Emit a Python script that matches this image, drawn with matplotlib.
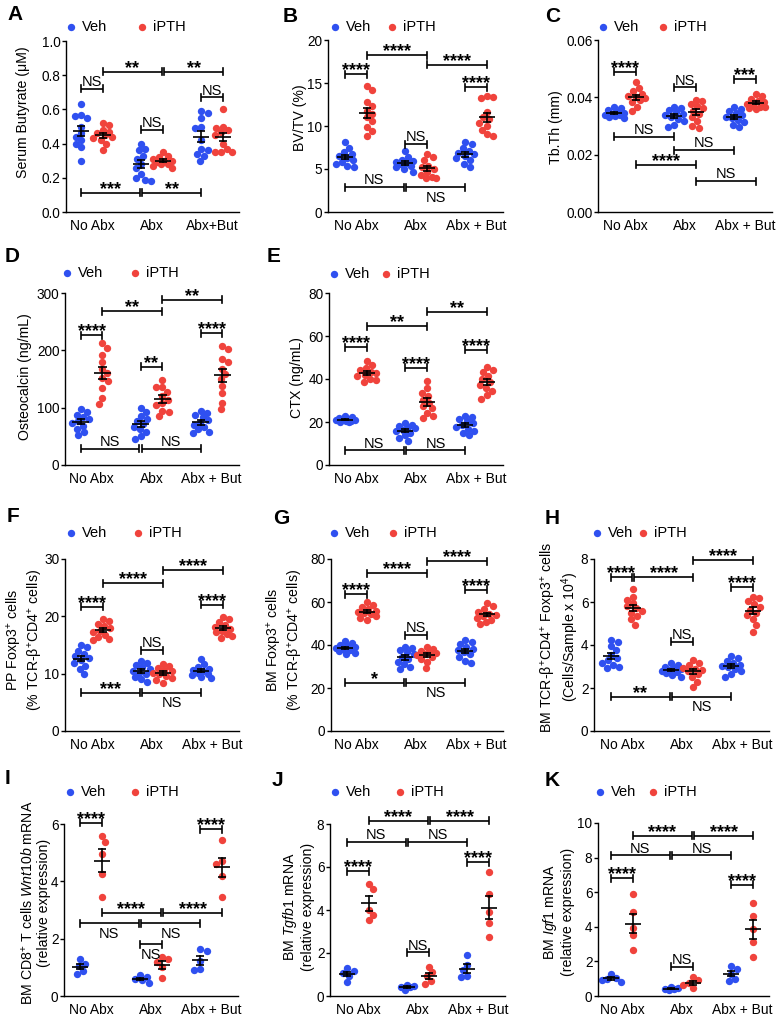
import numpy as np
import matplotlib
matplotlib.use("Agg")
import matplotlib.pyplot as plt
from matplotlib.lines import Line2D

plt.rcParams['font.family'] = ['Liberation Sans', 'DejaVu Sans']
plt.rcParams['mathtext.fontset'] = 'custom'
plt.rcParams['mathtext.rm'] = 'Liberation Sans'
plt.rcParams['mathtext.it'] = 'Liberation Sans:italic'
plt.rcParams['mathtext.bf'] = 'Liberation Sans:bold'

W, H = 779, 1023
BLUE = '#2f50f0'
RED = '#f0433c'

groups = ['No Abx', 'Abx', 'Abx + But']
groups_a = ['No Abx', 'Abx', 'Abx+But']

# ---------------- data ----------------
a_veh = [[0.63, 0.57, 0.56, 0.55, 0.50, 0.46, 0.44, 0.42, 0.40, 0.38, 0.30],
         [0.40, 0.37, 0.36, 0.33, 0.31, 0.28, 0.26, 0.22, 0.20, 0.18, 0.19],
         [0.59, 0.58, 0.55, 0.50, 0.49, 0.42, 0.36, 0.37, 0.34, 0.33, 0.30]]
a_ipth = [[0.52, 0.51, 0.48, 0.46, 0.47, 0.45, 0.44, 0.43, 0.42, 0.40, 0.36],
          [0.35, 0.33, 0.32, 0.31, 0.30, 0.30, 0.29, 0.28, 0.28, 0.27, 0.26],
          [0.60, 0.50, 0.49, 0.48, 0.47, 0.45, 0.40, 0.37, 0.35, 0.35, 0.35]]
b_veh = [[8.1, 7.5, 7.0, 6.8, 6.5, 6.3, 6.0, 5.8, 5.6, 5.4, 5.2],
         [7.1, 6.4, 6.1, 5.9, 5.8, 5.7, 5.6, 5.4, 5.2, 5.0, 4.7],
         [8.1, 7.9, 7.4, 7.1, 6.9, 6.7, 6.5, 6.3, 6.0, 5.6, 5.2]]
b_ipth = [[14.6, 14.2, 12.8, 12.3, 11.8, 11.4, 11.0, 10.6, 9.9, 9.4, 8.8],
          [6.7, 6.4, 6.0, 5.4, 5.2, 5.0, 4.6, 4.3, 4.1, 4.0, 4.0],
          [13.5, 13.4, 13.2, 11.6, 11.0, 10.8, 10.4, 10.0, 9.5, 9.1, 8.8]]
c_veh = [[0.0366, 0.0362, 0.0356, 0.0350, 0.0346, 0.0343, 0.0340, 0.0337, 0.0334, 0.0330, 0.0327],
         [0.0368, 0.0363, 0.0356, 0.0348, 0.0342, 0.0338, 0.0333, 0.0326, 0.0318, 0.0305, 0.0295],
         [0.0367, 0.0360, 0.0352, 0.0345, 0.0338, 0.0333, 0.0328, 0.0322, 0.0315, 0.0305, 0.0295]]
c_ipth = [[0.0452, 0.0432, 0.0421, 0.0412, 0.0405, 0.0400, 0.0396, 0.0390, 0.0382, 0.0367, 0.0353],
          [0.0392, 0.0386, 0.0378, 0.0370, 0.0362, 0.0352, 0.0342, 0.0330, 0.0316, 0.0300, 0.0293],
          [0.0412, 0.0405, 0.0395, 0.0388, 0.0382, 0.0377, 0.0372, 0.0368, 0.0365, 0.0362, 0.0360]]
d_veh = [[97, 93, 88, 84, 80, 76, 73, 68, 63, 57, 52],
         [100, 93, 86, 81, 77, 72, 67, 62, 57, 50, 46],
         [94, 91, 88, 84, 78, 74, 70, 66, 62, 58, 56]]
d_ipth = [[212, 204, 192, 180, 168, 160, 152, 146, 134, 116, 106],
          [148, 136, 136, 128, 120, 114, 108, 104, 95, 92, 85],
          [207, 203, 185, 180, 168, 158, 150, 138, 125, 108, 97]]
e_veh = [[22.6, 22.2, 21.9, 21.6, 21.3, 21.0, 20.8, 20.6, 20.4, 20.2, 20.0],
         [19.4, 18.8, 18.3, 17.6, 17.0, 16.4, 15.6, 14.8, 13.9, 12.5, 11.2],
         [23.0, 22.4, 21.5, 20.5, 19.4, 18.6, 17.8, 16.8, 15.8, 14.8, 13.8]]
e_ipth = [[48.4, 46.5, 45.2, 44.0, 43.3, 42.7, 42.0, 41.2, 40.2, 39.5, 38.8],
          [39.3, 35.8, 33.5, 32.0, 30.4, 29.0, 27.3, 26.3, 24.2, 22.8, 21.8],
          [45.6, 44.3, 43.2, 41.5, 40.2, 38.6, 37.4, 36.0, 34.5, 32.6, 30.8]]
f_veh = [[15.0, 14.6, 14.0, 13.4, 13.0, 12.7, 12.3, 11.9, 11.4, 10.8, 9.9],
         [12.2, 11.8, 11.5, 11.1, 10.8, 10.5, 10.2, 9.9, 9.5, 9.1, 8.6],
         [12.6, 11.6, 11.2, 10.9, 10.6, 10.4, 10.2, 10.0, 9.8, 9.5, 9.2]]
f_ipth = [[19.5, 19.1, 18.7, 18.3, 17.9, 17.5, 17.2, 16.8, 16.4, 16.0, 15.8],
          [11.7, 11.3, 11.0, 10.7, 10.4, 10.2, 9.9, 9.6, 9.3, 8.9, 8.4],
          [19.9, 19.5, 19.0, 18.5, 18.1, 17.8, 17.5, 17.2, 16.9, 16.6, 16.3]]
g_veh = [[42.0, 41.0, 40.2, 39.6, 39.1, 38.7, 38.3, 37.8, 37.2, 36.4, 35.6],
         [39.2, 38.4, 37.5, 36.6, 35.6, 34.6, 33.4, 32.2, 31.0, 29.8, 28.7],
         [42.3, 41.3, 40.3, 39.2, 38.3, 37.5, 36.6, 35.6, 34.3, 32.6, 31.4]]
g_ipth = [[59.8, 58.6, 57.5, 56.6, 55.9, 55.3, 54.8, 54.2, 53.5, 52.6, 51.6],
          [38.9, 38.0, 37.4, 36.8, 36.2, 35.7, 35.2, 34.5, 33.6, 32.2, 29.3],
          [59.4, 58.0, 56.6, 55.3, 54.6, 54.0, 53.3, 52.6, 51.8, 50.8, 49.7]]
h_veh = [[4.25, 4.15, 3.95, 3.75, 3.55, 3.40, 3.28, 3.15, 3.05, 2.97, 2.92],
         [3.15, 3.08, 3.00, 2.95, 2.90, 2.85, 2.80, 2.75, 2.68, 2.60, 2.52],
         [3.48, 3.38, 3.25, 3.15, 3.08, 3.02, 2.97, 2.90, 2.80, 2.65, 2.52]]
h_ipth = [[6.60, 6.25, 6.10, 5.95, 5.80, 5.70, 5.60, 5.50, 5.35, 5.20, 4.95],
          [3.30, 3.15, 3.05, 2.95, 2.90, 2.85, 2.78, 2.65, 2.50, 2.30, 2.05],
          [6.25, 6.18, 6.05, 5.90, 5.78, 5.65, 5.50, 5.38, 5.22, 4.95, 4.62]]
i_veh = [[1.29, 1.12, 1.04, 0.88, 0.78], [0.72, 0.66, 0.60, 0.55, 0.45], [1.63, 1.56, 1.22, 0.93, 0.90]]
i_ipth = [[5.58, 5.38, 4.95, 4.25, 3.45], [1.35, 1.28, 1.18, 1.00, 0.62], [5.44, 4.72, 4.62, 4.20, 3.45]]
j_veh = [[1.28, 1.18, 1.06, 0.95, 0.66], [0.50, 0.46, 0.42, 0.40, 0.30], [1.92, 1.45, 1.22, 0.92, 0.88]]
j_ipth = [[5.22, 4.98, 4.00, 3.78, 3.55], [1.35, 1.10, 0.92, 0.70, 0.58], [5.75, 4.75, 3.90, 3.40, 2.75]]
k_veh = [[1.30, 1.06, 1.00, 0.90, 0.80], [0.50, 0.45, 0.42, 0.38, 0.33], [1.75, 1.55, 1.30, 1.00, 0.88]]
k_ipth = [[5.90, 4.88, 3.92, 3.53, 2.66], [1.10, 0.90, 0.78, 0.62, 0.45], [5.40, 4.65, 3.90, 3.10, 2.28]]

# significance brackets: (from, to, height, label, text side)
a_brk = [('V0', 'P0', 0.72, 'NS', 'a'), ('P0', 'P1', 0.82, '**', 'a'), ('P1', 'P2', 0.82, '**', 'a'),
         ('V1', 'P1', 0.48, 'NS', 'a'), ('V2', 'P2', 0.67, 'NS', 'a'),
         ('V0', 'V1', 0.113, '***', 'a'), ('V1', 'V2', 0.113, '**', 'a')]
b_brk = [('V0', 'P0', 16.0, '****', 'a'), ('P0', 'P1', 18.25, '****', 'a'), ('P1', 'P2', 17.1, '****', 'a'),
         ('V2', 'P2', 14.5, '****', 'a'), ('V1', 'P1', 7.9, 'NS', 'a'),
         ('V0', 'V1', 2.9, 'NS', 'a'), ('V1', 'V2', 2.9, 'NS', 'b')]
c_brk = [('V0', 'P0', 0.049, '****', 'a'), ('V1', 'P1', 0.0435, 'NS', 'a'), ('V2', 'P2', 0.0463, '***', 'a'),
         ('V0', 'V1', 0.0263, 'NS', 'a'), ('V1', 'V2', 0.0216, 'NS', 'a'),
         ('P0', 'P1', 0.0164, '****', 'a'), ('P1', 'P2', 0.0108, 'NS', 'a')]
d_brk = [('V0', 'P0', 226, '****', 'a'), ('P0', 'P1', 268, '**', 'a'), ('P1', 'P2', 288, '**', 'a'),
         ('V2', 'P2', 230, '****', 'a'), ('V1', 'P1', 171, '**', 'a'),
         ('V0', 'V1', 28, 'NS', 'a'), ('V1', 'V2', 28, 'NS', 'a')]
e_brk = [('V0', 'P0', 54.7, '****', 'a'), ('P0', 'P1', 64.6, '**', 'a'), ('P1', 'P2', 71.2, '**', 'a'),
         ('V1', 'P1', 45.3, '****', 'a'), ('V2', 'P2', 53.7, '****', 'a'),
         ('V0', 'V1', 6.8, 'NS', 'a'), ('V1', 'V2', 6.8, 'NS', 'a')]
f_brk = [('V0', 'P0', 21.7, '****', 'a'), ('P0', 'P1', 25.8, '****', 'a'), ('P1', 'P2', 28.0, '****', 'a'),
         ('V2', 'P2', 22.0, '****', 'a'), ('V1', 'P1', 14.1, 'NS', 'a'),
         ('V0', 'V1', 6.65, '***', 'a'), ('V1', 'V2', 6.65, 'NS', 'b')]
g_brk = [('V0', 'P0', 63.7, '****', 'a'), ('P0', 'P1', 73.3, '****', 'a'), ('P1', 'P2', 79.0, '****', 'a'),
         ('V2', 'P2', 65.8, '****', 'a'), ('V1', 'P1', 44.6, 'NS', 'a'),
         ('V0', 'V1', 22.4, '*', 'a'), ('V1', 'V2', 22.4, 'NS', 'b')]
h_brk = [('V0', 'P0', 7.16, '****', 'a'), ('P0', 'P1', 7.16, '****', 'a'), ('P1', 'P2', 7.94, '****', 'a'),
         ('V2', 'P2', 6.69, '****', 'a'), ('V1', 'P1', 4.16, 'NS', 'a'),
         ('V0', 'V1', 1.59, '**', 'a'), ('V1', 'V2', 1.59, 'NS', 'b')]
i_brk = [('V0', 'P0', 6.05, '****', 'a'), ('V2', 'P2', 5.81, '****', 'a'),
         ('P0', 'P1', 2.91, '****', 'a'), ('P1', 'P2', 2.91, '****', 'a'),
         ('V0', 'V1', 2.53, 'NS', 'b'), ('V1', 'V2', 2.53, 'NS', 'b'), ('V1', 'P1', 1.81, 'NS', 'b')]
j_brk = [('P0', 'P1', 8.14, '****', 'a'), ('P1', 'P2', 8.14, '****', 'a'),
         ('V0', 'V1', 7.15, 'NS', 'a'), ('V1', 'V2', 7.15, 'NS', 'a'),
         ('V0', 'P0', 5.81, '****', 'a'), ('V2', 'P2', 6.22, '****', 'a'), ('V1', 'P1', 2.03, 'NS', 'a')]
k_brk = [('P0', 'P1', 9.27, '****', 'a'), ('P1', 'P2', 9.27, '****', 'a'),
         ('V0', 'V1', 8.13, 'NS', 'a'), ('V1', 'V2', 8.13, 'NS', 'a'),
         ('V0', 'P0', 6.81, '****', 'a'), ('V2', 'P2', 6.43, '****', 'a'), ('V1', 'P1', 1.70, 'NS', 'a')]

yticks = {
    'A': [0.0, 0.2, 0.4, 0.6, 0.8, 1.0], 'B': [0, 5, 10, 15, 20], 'C': [0.00, 0.02, 0.04, 0.06],
    'D': [0, 100, 200, 300], 'E': [0, 20, 40, 60, 80], 'F': [0, 10, 20, 30], 'G': [0, 20, 40, 60, 80],
    'H': [0, 2, 4, 6, 8], 'I': [0, 2, 4, 6], 'J': [0, 2, 4, 6, 8], 'K': [0, 2, 4, 6, 8, 10]}
yfmt = {'A': '{:.1f}', 'C': '{:.2f}'}

ylabels = {
    'A': 'Serum Butyrate (μM)', 'B': 'BV/TV (%)', 'C': 'Tb.Th (mm)',
    'D': 'Osteocalcin (ng/mL)', 'E': 'CTX (ng/mL)',
    'F': 'PP Foxp3$^{+}$ cells\n(% TCR-β$^{+}$CD4$^{+}$ cells)',
    'G': 'BM Foxp3$^{+}$ cells\n(% TCR-β$^{+}$CD4$^{+}$ cells)',
    'H': 'BM TCR-β$^{+}$CD4$^{+}$ Foxp3$^{+}$ cells\n(Cells/Sample x 10$^{4}$)',
    'I': 'BM CD8$^{+}$ T cells $\\mathit{Wnt10b}$ mRNA\n(relative expression)',
    'J': 'BM $\\mathit{Tgfb1}$ mRNA\n(relative expression)',
    'K': 'BM $\\mathit{Igf1}$ mRNA\n(relative expression)'}

# ---------------- layout (pixels) ----------------
# (y-axis x, first group centre x, axis top y, axis bottom y)
box = {'A': (66, 92, 41, 212), 'B': (328, 356, 40, 212), 'C': (598, 625, 40, 212),
       'D': (65, 91.5, 293, 465), 'E': (329, 356, 293, 465),
       'F': (65, 92, 559, 731), 'G': (331, 356, 559, 731), 'H': (594, 622, 559, 731),
       'I': (64, 91, 824, 996), 'J': (330, 358, 824, 996), 'K': (598, 622, 823, 996)}
letter_pos = {'A': (7, 15), 'B': (283, 17), 'C': (545, 17), 'D': (5, 257), 'E': (267, 257),
              'F': (7, 517), 'G': (273, 519), 'H': (545, 519), 'I': (5, 778), 'J': (272, 780),
              'K': (545, 780)}
legend_pos = {'A': (71, 142, 27), 'B': (335, 392, 27), 'C': (603, 663, 27),
              'D': (67, 135, 273), 'E': (334, 386, 274),
              'F': (71, 138, 533), 'G': (334, 393, 533), 'H': (597, 643, 533),
              'I': (70, 135, 792), 'J': (335, 400, 792), 'K': (600, 653, 792)}
ylabel_pos = {'A': (23, 112), 'B': (300, 118), 'C': (556, 127), 'D': (25, 377), 'E': (297, 378),
              'F': (25, 640), 'G': (285, 640), 'H': (560, 637), 'I': (35, 903), 'J': (298, 907),
              'K': (558, 912)}

UNIT = 60.0
OFF = 0.183
POS = {'V0': -OFF, 'P0': OFF, 'V1': 1 - OFF, 'P1': 1 + OFF, 'V2': 2 - OFF, 'P2': 2 + OFF}

fig = plt.figure(figsize=(W / 100, H / 100), dpi=100)


def fx(x):
    return x / W


def fy(y):
    return 1 - y / H


def swarm(vals, ppu, d=6.4, maxw=9.5):
    vals = np.asarray(vals, float)
    ys = vals * ppu
    order = np.argsort(-ys)
    placed = []
    offs = np.zeros(len(vals))
    grid = np.arange(-maxw, maxw + 0.01, 0.5)
    for k, i in enumerate(order):
        sgn = 1 if k % 2 == 0 else -1
        cands = sorted(grid, key=lambda c: (abs(c), sgn * c))
        best, bestc, bestd = None, 0.0, -1.0
        for c in cands:
            if not placed:
                best = c
                break
            md = min(np.hypot(c - px, ys[i] - py) for px, py in placed)
            if md >= d:
                best = c
                break
            if md > bestd:
                bestd, bestc = md, c
        if best is None:
            best = bestc
        offs[i] = best
        placed.append((best, ys[i]))
    return offs / UNIT


def panel(key, veh, ipth, brk, ymax, xlabels):
    yx, c0, top, bot = box[key]
    xl = -(c0 - yx) / UNIT
    xr = 2.45
    ax = fig.add_axes([fx(yx), fy(bot), (xr - xl) * UNIT / W, (bot - top) / H])
    ax.set_xlim(xl, xr)
    ax.set_ylim(0, ymax)
    ppu = (bot - top) / ymax
    for s, (data, col) in enumerate([(veh, BLUE), (ipth, RED)]):
        for g, vals in enumerate(data):
            xc = g + (-OFF if s == 0 else OFF)
            xs = xc + swarm(vals, ppu)
            ax.scatter(xs, vals, s=28, color=col, lw=0, zorder=2, clip_on=False)
            m = np.mean(vals)
            se = np.std(vals, ddof=1) / np.sqrt(len(vals))
            ax.plot([xc - 0.135, xc + 0.135], [m, m], color='k', lw=1.2, zorder=3, solid_capstyle='butt')
            ax.plot([xc, xc], [m - se, m + se], color='k', lw=1.2, zorder=3)
            for v in (m - se, m + se):
                ax.plot([xc - 0.067, xc + 0.067], [v, v], color='k', lw=1.2, zorder=3,
                        solid_capstyle='butt')
    th = 3.5 / ppu
    for (a, b, yb, lab, side) in brk:
        x1, x2 = POS[a], POS[b]
        for (a2, b2, y2, _, _) in brk:
            if abs(y2 - yb) < 1e-9 and (a2, b2) != (a, b):
                if b == a2:
                    x2 -= 0.02
                if a == b2:
                    x1 += 0.02
        ax.plot([x1, x2], [yb, yb], color='k', lw=1.2, clip_on=False, zorder=4, solid_capstyle='butt')
        for xe in (x1, x2):
            ax.plot([xe, xe], [yb - th, yb + th], color='k', lw=1.2, clip_on=False, zorder=4)
        xm = (x1 + x2) / 2
        if '*' in lab:
            ax.annotate(lab, (xm, yb), xytext=(0, -0.8), textcoords='offset points', ha='center',
                        va='baseline', fontsize=13, fontweight='bold', annotation_clip=False, zorder=5)
        elif side == 'a':
            ax.annotate(lab, (xm, yb), xytext=(0, 2.0), textcoords='offset points', ha='center',
                        va='baseline', fontsize=10.5, annotation_clip=False, zorder=5)
        else:
            ax.annotate(lab, (xm, yb), xytext=(0, -2.6), textcoords='offset points', ha='center',
                        va='top', fontsize=10.5, annotation_clip=False, zorder=5)
    for sp in ('top', 'right'):
        ax.spines[sp].set_visible(False)
    for sp in ('left', 'bottom'):
        ax.spines[sp].set_linewidth(1.0)
    ax.set_xticks([0, 1, 2])
    ax.set_xticklabels(xlabels, fontsize=10)
    ax.tick_params(axis='x', length=0, pad=5)
    ax.set_yticks(yticks[key])
    fmt = yfmt.get(key, '{:d}')
    ax.set_yticklabels([fmt.format(v) if fmt != '{:d}' else str(int(v)) for v in yticks[key]],
                       fontsize=9.8)
    ax.tick_params(axis='y', length=3.0, width=1.0, pad=1.0)
    # y label
    lx, ly = ylabel_pos[key]
    fig.text(fx(lx), fy(ly), ylabels[key], rotation=90, ha='center', va='center',
             multialignment='center', fontsize=10.2, linespacing=1.15)
    # panel letter
    px, py = letter_pos[key]
    fig.text(fx(px), fy(py), key, fontsize=15, fontweight='bold', ha='left', va='center')
    # legend
    vx, ix, ly2 = legend_pos[key]
    for xx, col, lab in ((vx, BLUE, 'Veh'), (ix, RED, 'iPTH')):
        fig.add_artist(Line2D([fx(xx)], [fy(ly2)], marker='o', markersize=5.3, color=col, lw=0,
                              markeredgewidth=0, transform=fig.transFigure))
        fig.text(fx(xx + 11), fy(ly2), lab, fontsize=10.5, ha='left', va='center')
    return ax


panel('A', a_veh, a_ipth, a_brk, 1.0, groups_a)
panel('B', b_veh, b_ipth, b_brk, 20, groups)
panel('C', c_veh, c_ipth, c_brk, 0.06, groups)
panel('D', d_veh, d_ipth, d_brk, 300, groups)
panel('E', e_veh, e_ipth, e_brk, 80, groups)
panel('F', f_veh, f_ipth, f_brk, 30, groups)
panel('G', g_veh, g_ipth, g_brk, 80, groups)
panel('H', h_veh, h_ipth, h_brk, 8, groups)
panel('I', i_veh, i_ipth, i_brk, 6, groups)
panel('J', j_veh, j_ipth, j_brk, 8, groups)
panel('K', k_veh, k_ipth, k_brk, 10, groups)

fig.savefig('out.png', dpi=100, facecolor='white')
